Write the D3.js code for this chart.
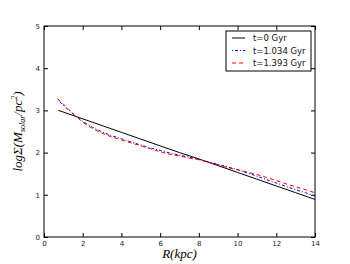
<!DOCTYPE html>
<html>
<head>
<meta charset="utf-8">
<script src="https://cdn.jsdelivr.net/npm/d3@7/dist/d3.min.js"></script>
<style>
  body { margin: 0; background: #fff; }
  svg { display: block; }
</style>
</head>
<body>
<div id="vis"></div>
<script>
// data
const rBlack = [0.74, 1, 2, 3, 4, 5, 6, 7, 8, 9, 10, 11, 12, 13, 14];
const t0 = [3.00, 2.96, 2.80, 2.64, 2.48, 2.32, 2.16, 2.00, 1.85, 1.69, 1.53, 1.37, 1.21, 1.05, 0.89];

const rDash = [0.7, 1, 1.5, 2, 2.5, 3, 3.5, 4, 4.5, 5, 5.5, 6, 6.5, 7, 7.5, 8, 8.5, 9, 9.5, 10, 10.5, 11, 11.5, 12, 12.5, 13, 13.5, 14];
const t1034 = [3.25, 3.12, 2.92, 2.74, 2.60, 2.49, 2.40, 2.33, 2.25, 2.18, 2.11, 2.05, 1.99, 1.94, 1.89, 1.84, 1.78, 1.72, 1.66, 1.60, 1.52, 1.44, 1.36, 1.28, 1.20, 1.12, 1.05, 0.97];
const t1393 = [3.28, 3.15, 2.92, 2.72, 2.57, 2.46, 2.37, 2.30, 2.23, 2.16, 2.09, 2.02, 1.96, 1.92, 1.87, 1.83, 1.77, 1.71, 1.64, 1.59, 1.54, 1.48, 1.41, 1.34, 1.26, 1.19, 1.12, 1.05];

const legendLabels = ["t=0 Gyr", "t=1.034 Gyr", "t=1.393 Gyr"];
const xTicks = [0, 2, 4, 6, 8, 10, 12, 14];
const yTicks = [0, 1, 2, 3, 4, 5];

const W = 350, H = 264;
const margin = {left: 44, top: 26, right: 35, bottom: 27};

const x = d3.scaleLinear().domain([0, 14]).range([margin.left, W - margin.right]);
const y = d3.scaleLinear().domain([0, 5]).range([H - margin.bottom, margin.top]);

const svg = d3.select("#vis").append("svg")
  .attr("width", W)
  .attr("height", H);

// axes, ticks pointing inwards on all sides
const tickFont = g => g.selectAll("text")
  .attr("font-family", "DejaVu Sans, sans-serif")
  .attr("font-size", 7)
  .attr("fill", "#222");

svg.append("g")
  .attr("transform", `translate(0,${y(0)})`)
  .call(d3.axisBottom(x).tickValues(xTicks).tickFormat(d3.format("d")).tickSizeInner(-4).tickSizeOuter(0).tickPadding(4))
  .call(g => g.select(".domain").remove())
  .call(tickFont);

svg.append("g")
  .attr("transform", `translate(0,${y(5)})`)
  .call(d3.axisTop(x).tickValues(xTicks).tickFormat("").tickSizeInner(-4).tickSizeOuter(0))
  .call(g => g.select(".domain").remove());

svg.append("g")
  .attr("transform", `translate(${x(0)},0)`)
  .call(d3.axisLeft(y).tickValues(yTicks).tickFormat(d3.format("d")).tickSizeInner(-4).tickSizeOuter(0).tickPadding(4))
  .call(g => g.select(".domain").remove())
  .call(tickFont);

svg.append("g")
  .attr("transform", `translate(${x(14)},0)`)
  .call(d3.axisRight(y).tickValues(yTicks).tickFormat("").tickSizeInner(-4).tickSizeOuter(0))
  .call(g => g.select(".domain").remove());

svg.append("rect")
  .attr("x", x(0)).attr("y", y(5))
  .attr("width", x(14) - x(0)).attr("height", y(0) - y(5))
  .attr("fill", "none").attr("stroke", "#000").attr("stroke-width", 1);

// lines
const line = d3.line().x(d => x(d[0])).y(d => y(d[1]));

const series = [
  {r: rBlack, v: t0, color: "#000", dash: null},
  {r: rDash, v: t1034, color: "#0000ff", dash: "1,2,3,2"},
  {r: rDash, v: t1393, color: "#ff0000", dash: "4,3"}
];

svg.append("g")
  .selectAll("path")
  .data(series)
  .join("path")
    .attr("d", s => line(s.r.map((r, i) => [r, s.v[i]])))
    .attr("fill", "none")
    .attr("stroke", s => s.color)
    .attr("stroke-width", 1)
    .attr("stroke-dasharray", s => s.dash);

// legend
const legend = svg.append("g").attr("transform", "translate(226,31)");
legend.append("rect")
  .attr("width", 85).attr("height", 40)
  .attr("fill", "#fff").attr("stroke", "#000").attr("stroke-width", 1);

const items = legend.selectAll("g.item")
  .data(series)
  .join("g")
    .attr("class", "item")
    .attr("transform", (d, i) => `translate(0,${7 + i * 12.5})`);

items.append("line")
  .attr("x1", 6).attr("x2", 19)
  .attr("stroke", d => d.color)
  .attr("stroke-width", 1)
  .attr("stroke-dasharray", d => d.dash);

items.append("text")
  .attr("x", 27).attr("y", 3)
  .attr("font-family", "DejaVu Sans, sans-serif")
  .attr("font-size", 8.5)
  .attr("fill", "#111")
  .text((d, i) => legendLabels[i]);

// axis labels
svg.append("text")
  .attr("x", (x(0) + x(14)) / 2).attr("y", 258)
  .attr("text-anchor", "middle")
  .attr("font-family", "Liberation Serif, serif")
  .attr("font-style", "italic")
  .attr("font-size", 13)
  .text("R(kpc)");

const yl = svg.append("text")
  .attr("transform", `translate(22,${(y(0) + y(5)) / 2}) rotate(-90)`)
  .attr("text-anchor", "middle")
  .attr("font-family", "Liberation Serif, serif")
  .attr("font-style", "italic")
  .attr("font-size", 13);
yl.append("tspan").text("log\u03A3(M");
yl.append("tspan").attr("font-size", 8).attr("dy", 3).text("solar");
yl.append("tspan").attr("dy", -3).text("/pc");
yl.append("tspan").attr("font-size", 8).attr("dy", -5).text("2");
yl.append("tspan").attr("dy", 5).text(")");
</script>
</body>
</html>
